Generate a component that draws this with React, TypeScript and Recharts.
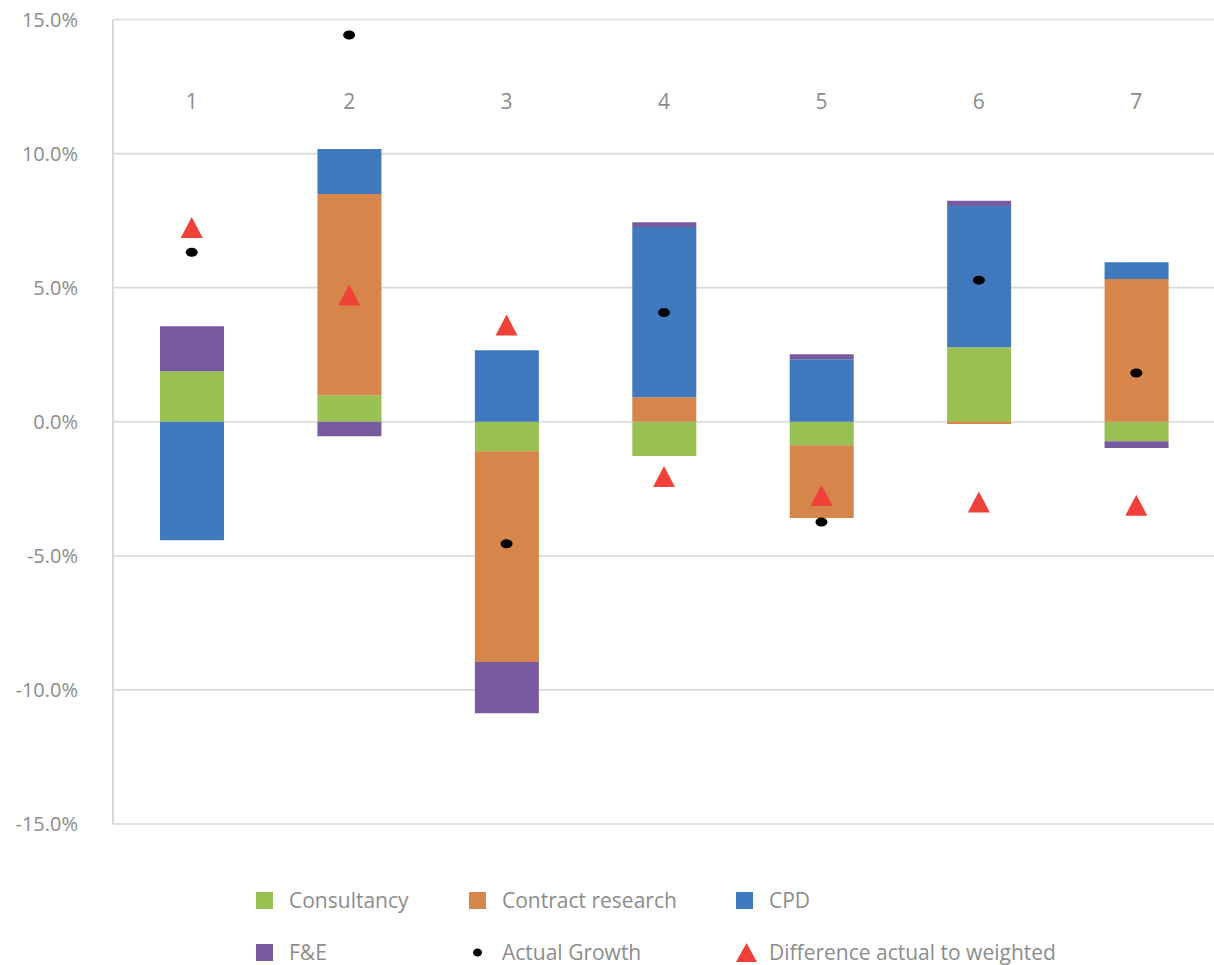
import React from "react";
import { Bar, CartesianGrid, ComposedChart, Line, XAxis, YAxis } from "recharts";

const categories = ["1", "2", "3", "4", "5", "6", "7"];
const consultancy = [1.88, 0.99, -1.1, -1.28, -0.88, 2.78, -0.73];
const contractResearch = [0, 7.5, -7.86, 0.91, -2.71, -0.08, 5.32];
const cpd = [-4.42, 1.68, 2.67, 6.35, 2.33, 5.27, 0.63];
const fe = [1.68, -0.54, -1.91, 0.18, 0.19, 0.19, -0.25];
const actualGrowth = [6.32, 14.42, -4.55, 4.07, -3.74, 5.28, 1.82];
const difference = [7.24, 4.73, 3.61, -2.04, -2.75, -2.99, -3.11];
const yTicks = [-15, -10, -5, 0, 5, 10, 15];

const GREEN = "#99c151";
const ORANGE = "#d6864a";
const BLUE = "#4179be";
const PURPLE = "#785b9e";
const RED = "#ef4139";
const TEXT = "#8c8c8c";
const GRID = "#d9d9d9";
const FONT = "'Open Sans', sans-serif";

const data = categories.map((name, i) => ({
  name,
  consultancy: consultancy[i],
  contractResearch: contractResearch[i],
  cpd: cpd[i],
  fe: fe[i],
  actual: actualGrowth[i],
  diff: difference[i],
}));

const legendItems = [
  { label: "Consultancy", kind: "square", color: GREEN },
  { label: "Contract research", kind: "square", color: ORANGE },
  { label: "CPD", kind: "square", color: BLUE },
  { label: "F&E", kind: "square", color: PURPLE },
  { label: "Actual Growth", kind: "dot", color: "#000" },
  { label: "Difference actual to weighted", kind: "triangle", color: RED },
];

function CategoryTick({ x, y, payload }: any) {
  return (
    <text x={x} y={y} dy={89} textAnchor="middle" fill={TEXT} fontSize={21} fontFamily={FONT}>
      {payload.value}
    </text>
  );
}

function GrowthDot({ cx, cy, index }: any) {
  if (cx == null || cy == null) return <g key={`a${index}`} />;
  return <ellipse key={`a${index}`} cx={cx} cy={cy} rx={6} ry={4.5} fill="#000" />;
}

function DiffMarker({ cx, cy, index }: any) {
  if (cx == null || cy == null) return <g key={`d${index}`} />;
  const pts = `${cx},${cy - 10.5} ${cx + 11},${cy + 10.5} ${cx - 11},${cy + 10.5}`;
  return <polygon key={`d${index}`} points={pts} fill={RED} />;
}

function LegendMarker({ kind, color }: { kind: string; color: string }) {
  if (kind === "dot") {
    return (
      <svg width={17} height={17}>
        <ellipse cx={8.5} cy={8.5} rx={4.5} ry={4} fill={color} />
      </svg>
    );
  }
  if (kind === "triangle") {
    return (
      <svg width={21} height={19}>
        <polygon points="10.5,0 21,19 0,19" fill={color} />
      </svg>
    );
  }
  return <div style={{ width: 17, height: 17, background: color }} />;
}

function ChartLegend() {
  const colWidths = [213, 267, 400];
  return (
    <div
      style={{
        position: "absolute",
        left: 256,
        top: 874,
        display: "grid",
        gridTemplateColumns: colWidths.map((w) => `${w}px`).join(" "),
        gridAutoRows: "52px",
        fontFamily: FONT,
        fontSize: 21,
        color: TEXT,
        whiteSpace: "nowrap",
      }}
    >
      {legendItems.map((item) => (
        <div key={item.label} style={{ display: "flex", alignItems: "center" }}>
          <div style={{ width: 33, flex: "none", display: "flex", alignItems: "center" }}>
            <LegendMarker kind={item.kind} color={item.color} />
          </div>
          <span>{item.label}</span>
        </div>
      ))}
    </div>
  );
}

export default function App() {
  return (
    <div
      style={{
        position: "absolute",
        left: 0,
        top: 0,
        width: 1214,
        height: 965,
        overflow: "hidden",
        background: "#fff",
        fontFamily: FONT,
      }}
    >
      <ComposedChart
        width={1215}
        height={965}
        data={data}
        stackOffset="sign"
        margin={{ top: 18.5, right: 0, bottom: 141, left: 0 }}
      >
        <CartesianGrid vertical={false} stroke={GRID} strokeWidth={1.6} />
        <XAxis
          dataKey="name"
          orientation="top"
          height={1}
          axisLine={false}
          tickLine={false}
          tickSize={0}
          tickMargin={0}
          tick={<CategoryTick />}
          interval={0}
        />
        <YAxis
          domain={[-15, 15]}
          ticks={yTicks}
          width={113}
          tickSize={0}
          tickMargin={35}
          axisLine={{ stroke: GRID, strokeWidth: 2 }}
          tickLine={false}
          tickFormatter={(v: number) => `${v.toFixed(1)}%`}
          tick={{ fill: TEXT, fontSize: 20, fontFamily: FONT }}
        />
        <Bar dataKey="consultancy" stackId="a" fill={GREEN} barSize={64} isAnimationActive={false} />
        <Bar dataKey="contractResearch" stackId="a" fill={ORANGE} barSize={64} isAnimationActive={false} />
        <Bar dataKey="cpd" stackId="a" fill={BLUE} barSize={64} isAnimationActive={false} />
        <Bar dataKey="fe" stackId="a" fill={PURPLE} barSize={64} isAnimationActive={false} />
        <Line
          dataKey="actual"
          stroke="none"
          dot={GrowthDot}
          activeDot={false}
          isAnimationActive={false}
        />
        <Line
          dataKey="diff"
          stroke="none"
          dot={DiffMarker}
          activeDot={false}
          isAnimationActive={false}
        />
      </ComposedChart>
      <ChartLegend />
    </div>
  );
}
